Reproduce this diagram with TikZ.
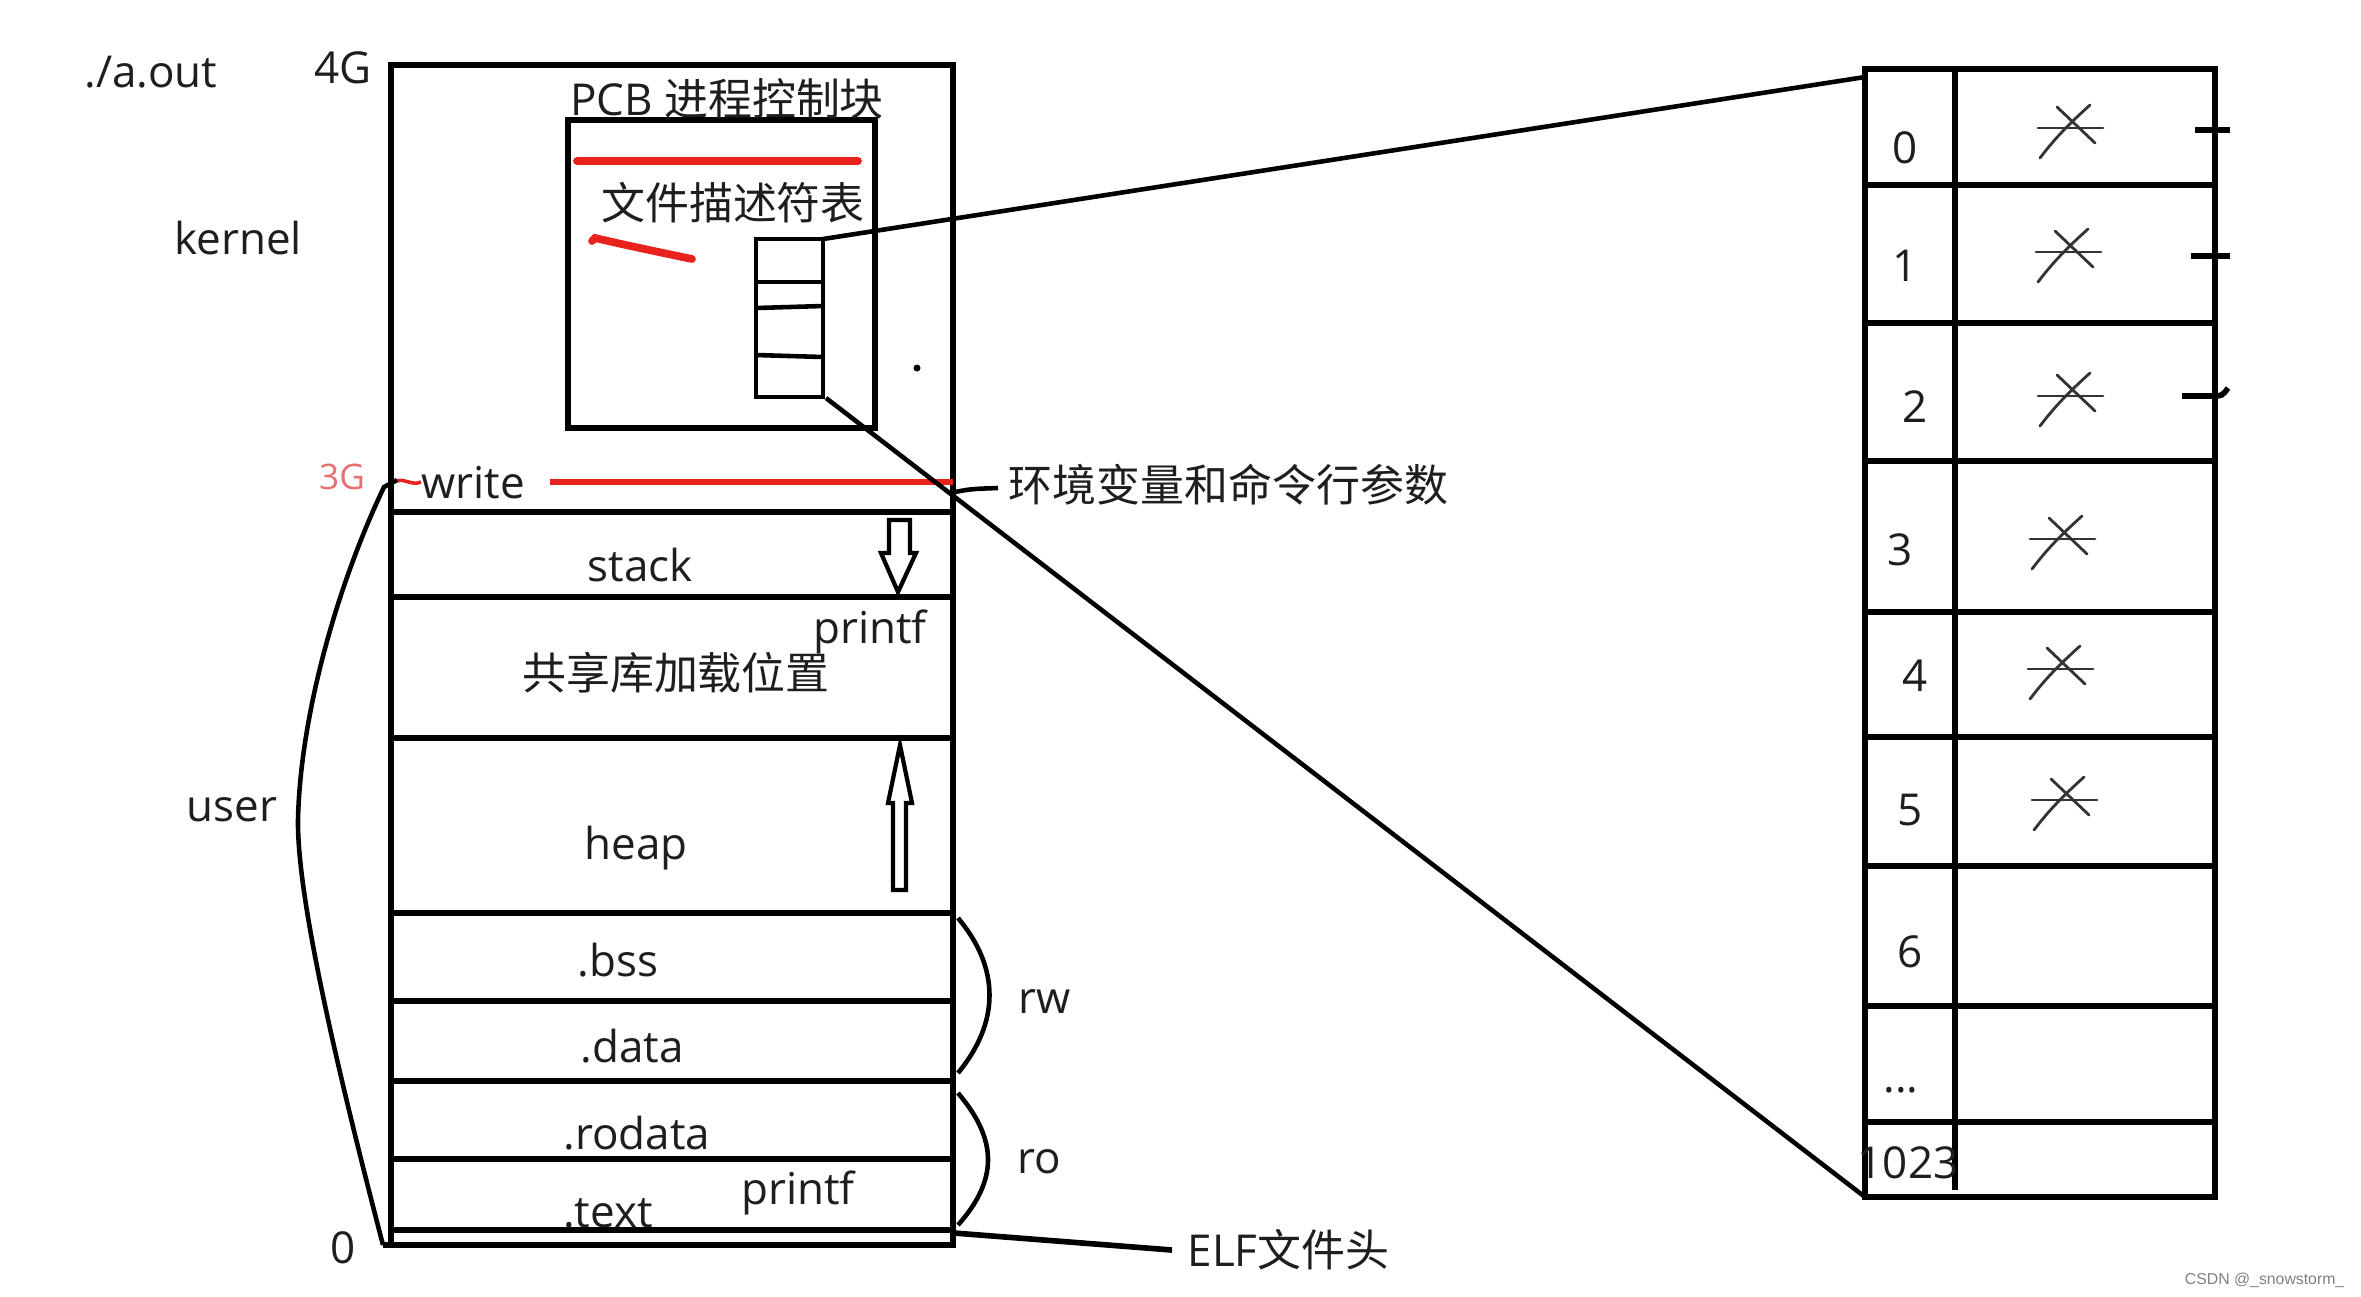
\documentclass[tikz,border=0pt]{standalone}
\usepackage{fontspec}
\setmainfont{Open Sans}
\newfontfamily\cjk{Noto Sans CJK SC}
\newfontfamily\wmfont{Liberation Sans}
\definecolor{ink}{HTML}{1E1E1E}
\definecolor{redline}{HTML}{E8231E}
\definecolor{lightred}{HTML}{E87070}
\definecolor{markgray}{HTML}{333333}
\begin{document}
\begin{tikzpicture}[x=0.01cm,y=-0.01cm,
  every node/.style={inner sep=0pt, text=ink, font=\fontsize{12.5}{15}\selectfont},
  wall/.style={line width=1.6pt, draw=black},
  thinwall/.style={line width=1.3pt, draw=black},
  redstroke/.style={line width=2.2pt, draw=redline, line cap=round},
  conn/.style={line width=1.3pt, draw=black},
  fdx/.pic={
    \draw[line width=0.8pt, markgray, line cap=round] (-32,0) -- (33,0);
    \draw[line width=0.8pt, markgray, line cap=round] (-13,-21) -- (25,15);
    \draw[line width=0.8pt, markgray, line cap=round] (20,-23) .. controls (0,-5) and (-15,10) .. (-30,30);
  }]
\useasboundingbox[fill=white] (0,0) rectangle (2361,1296);

% ---------------- memory layout box ----------------
\coordinate (memTL) at (391,65);
\coordinate (memBR) at (953,1245);
\draw[wall] (memTL) rectangle (memBR);
\foreach \yy in {512,597,738,913,1001,1081,1159,1230}
  \draw[wall] (391,\yy) -- (953,\yy);
\draw[wall] (383,1245) -- (391,1245);

% write / 3G red line
\coordinate (wr1) at (550,482);
\coordinate (wr2) at (953,482);
\draw[line width=1.8pt, draw=redline] (wr1) -- (wr2);
\draw[line width=1pt, draw=redline] (397,481) .. controls (404,478) and (412,486) .. (421,482);

% PCB box
\draw[wall] (568,120) rectangle (875,428);
\draw[redstroke] (577,161) -- (858,161);
\draw[redstroke] (592,241) -- (595,238) .. controls (630,246) .. (692,259);

% small fd table
\coordinate (fdTR) at (823,239);
\coordinate (fdBR) at (826,398);
\draw[thinwall] (756,239) rectangle (823,397);
\draw[thinwall] (756,282) -- (823,282);
\draw[thinwall] (756,308) -- (823,306);
\draw[thinwall] (756,355) -- (823,357);
\fill[black] (917,368) circle (3.5);

% stack arrow (down) and heap arrow (up)
\draw[line width=1.2pt] (889,520) -- (910,520) -- (910,553) -- (916,553) -- (898,592) -- (881,553) -- (889,553) -- cycle;
\draw[line width=1.2pt] (900,745) -- (912,803) -- (906,803) -- (906,890) -- (893,890) -- (893,803) -- (888,803) -- cycle;

% braces rw / ro
\draw[conn] (958,918) .. controls (1000,968) and (1000,1022) .. (958,1073);
\draw[conn] (958,1093) .. controls (998,1140) and (998,1180) .. (958,1225);

% user bracket
\draw[conn] (397,480) -- (384,487) .. controls (335,590) and (300,720) .. (298,820) .. controls (297,900) and (340,1080) .. (383,1245);

% ---------------- labels ----------------
\node (aout) at (151,72) {./a.out};
\node (g4) at (343,68) {4G};
\node (kernel) at (238,238) {kernel};
\node[text=lightred, font=\fontsize{10}{12}\selectfont] (g3) at (342,477) {3G};
\node (write) at (473,483) {write};
\node (user) at (232,810) {user};
\node (zero) at (343,1248) {0};
\node (pcb) at (727,99) {PCB {\cjk 进程控制块}};
\node (fdtab) at (733,203) {\cjk 文件描述符表};
\node[anchor=west] (env) at (1008,485) {\cjk 环境变量和命令行参数};
\node (stack) at (640,565) {stack};
\node (printfa) at (870,632) {printf};
\node (shlib) at (676,673) {\cjk 共享库加载位置};
\node (heap) at (636,848) {heap};
\node (bss) at (618,960) {.bss};
\node (data) at (632,1046) {.data};
\node (rodata) at (637,1133) {.rodata};
\node (text) at (608,1213) {.text};
\node (printfb) at (798,1193) {printf};
\node (rw) at (1045,1001) {rw};
\node (ro) at (1039,1162) {ro};
\node[anchor=west] (elf) at (1187,1250) {ELF{\cjk 文件头}};
\node[text=gray, font=\wmfont\fontsize{4.5}{5}\selectfont, anchor=east] (wm) at (2345,1280) {CSDN @\_snowstorm\_};

% connectors to labels
\draw[conn] (950,493) .. controls (970,489) .. (998,488);
\draw[line width=1.6pt] (954,1233) -- (1172,1250);

% ---------------- big fd table ----------------
\coordinate (tabTL) at (1865,69);
\coordinate (tabBL) at (1865,1197);
\draw[wall] (1865,69) rectangle (2215,1197);
\draw[wall] (1955,69) -- (1955,1190);
\foreach \yy in {185,323,461,612,737,866,1006,1122}
  \draw[wall] (1865,\yy) -- (2215,\yy);

\node at (1905,148) {0};
\node at (1905,266) {1};
\node at (1915,407) {2};
\node at (1900,550) {3};
\node at (1915,676) {4};
\node at (1910,810) {5};
\node at (1910,952) {6};
\node at (1901,1090) {...};
\node at (1908,1163) {1023};

\pic at (2070,128) {fdx};
\pic at (2068,252) {fdx};
\pic at (2070,396) {fdx};
\pic at (2062,539) {fdx};
\pic at (2060,669) {fdx};
\pic at (2064,800) {fdx};

\draw[wall] (2195,130) -- (2230,130);
\draw[wall] (2191,256) -- (2230,256);
\draw[wall] (2182,396) -- (2212,396) .. controls (2222,396) .. (2228,388);

% connectors fd table -> big table
\draw[conn] (fdTR) -- (1865,77);
\draw[conn] (fdBR) -- (tabBL);
\end{tikzpicture}
\end{document}
